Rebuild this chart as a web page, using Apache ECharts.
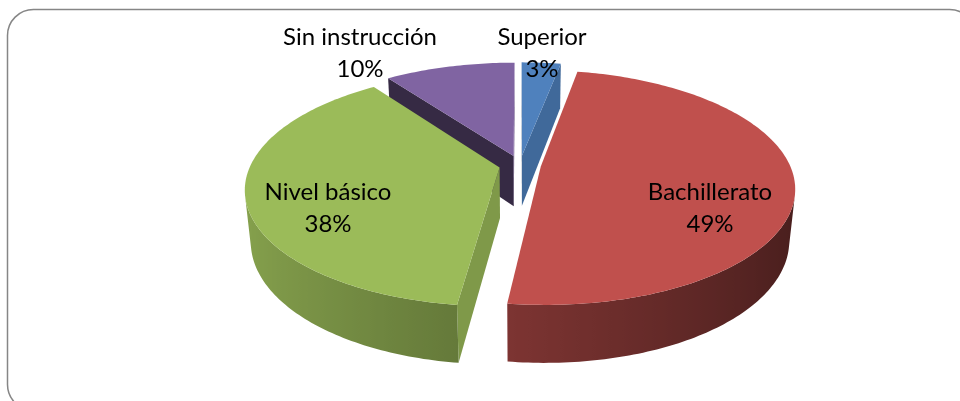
<!DOCTYPE html>
<html>
<head>
<meta charset="utf-8">
<script src="https://cdn.jsdelivr.net/npm/echarts@6/dist/echarts.min.js"></script>
<style>
  html, body { margin: 0; padding: 0; background: #fff; }
  #main { width: 960px; height: 401px; }
</style>
</head>
<body>
<div id="main"></div>
<script>
// datos del gráfico
var categories = ['Superior', 'Bachillerato', 'Nivel básico', 'Sin instrucción'];
var values = [3, 49, 38, 10];
var colors = ['#4F81BD', '#C0504D', '#9BBB59', '#8064A2'];

// vista 3D (estilo Excel)
var ELEV = 27 * Math.PI / 180;
var DIST = 1240;
var RAD = 249;
var DEPTH = 58;
var EXPLODE = 21;
var CX = 520, CY = 165;
var cosE = Math.cos(ELEV), sinE = Math.sin(ELEV);
var cam = [0, DIST * sinE, -DIST * cosE];

// posición de las etiquetas (centro del texto)
var labelAt = [[542, 53], [710, 208], [328, 208], [360, 53]];

var total = values.reduce(function (a, b) { return a + b }, 0);

function proj(X, Y, Z) {
  var yUp = Y * cosE + Z * sinE;
  var d = Z * cosE - Y * sinE;
  var s = DIST / (DIST + d);
  return [CX + X * s, CY - yUp * s];
}

function shade(hex, f) {
  var n = parseInt(hex.slice(1), 16);
  var r = Math.round(((n >> 16) & 255) * f);
  var g = Math.round(((n >> 8) & 255) * f);
  var b = Math.round((n & 255) * f);
  return 'rgb(' + Math.min(r, 255) + ',' + Math.min(g, 255) + ',' + Math.min(b, 255) + ')';
}

function visible(n, p) {
  return n[0] * (cam[0] - p[0]) + n[1] * (cam[1] - p[1]) + n[2] * (cam[2] - p[2]) > 0;
}

function renderSlice(params, api) {
  var i = params.dataIndex;
  var before = 0;
  for (var k = 0; k < i; k++) before += values[k];
  var v = api.value(0);
  var a0 = before / total * Math.PI * 2;
  var a1 = (before + v) / total * Math.PI * 2;
  var mid = (a0 + a1) / 2;
  var ox = EXPLODE * Math.sin(mid), oz = EXPLODE * Math.cos(mid);
  var z2 = Math.round(200 - oz * 3);
  var col = colors[i];

  function P(t, r, y) {
    return [ox + r * Math.sin(t), y, oz + r * Math.cos(t)];
  }
  function S(p) { return proj(p[0], p[1], p[2]); }

  var children = [];
  function face(pts3, fill) {
    children.push({
      type: 'polygon',
      z2: z2,
      shape: { points: pts3.map(S) },
      style: { fill: fill, stroke: null }
    });
  }

  // caras de corte
  var n0 = [-Math.cos(a0), 0, Math.sin(a0)];
  if (visible(n0, P(a0, RAD / 2, 0))) {
    face([P(0, 0, 0), P(a0, RAD, 0), P(a0, RAD, -DEPTH), P(0, 0, -DEPTH)], shade(col, 0.6 + 0.22 * n0[0]));
  }
  var n1 = [Math.cos(a1), 0, -Math.sin(a1)];
  if (visible(n1, P(a1, RAD / 2, 0))) {
    face([P(0, 0, 0), P(a1, RAD, 0), P(a1, RAD, -DEPTH), P(0, 0, -DEPTH)], shade(col, 0.6 + 0.22 * n1[0]));
  }

  // pared exterior: tramos visibles, un polígono con degradado
  var steps = Math.max(2, Math.ceil((a1 - a0) / (1 * Math.PI / 180)));
  var runs = [], cur = null;
  for (var j = 0; j < steps; j++) {
    var t0 = a0 + (a1 - a0) * j / steps;
    var t1 = a0 + (a1 - a0) * (j + 1) / steps;
    var tc = (t0 + t1) / 2;
    var n = [Math.sin(tc), 0, Math.cos(tc)];
    if (visible(n, P(tc, RAD, -DEPTH / 2))) {
      if (!cur) { cur = [t0]; runs.push(cur); }
      cur.push(t1);
    } else {
      cur = null;
    }
  }
  runs.forEach(function (ts) {
    var topPts = ts.map(function (t) { return P(t, RAD, 0); });
    var botPts = ts.map(function (t) { return P(t, RAD, -DEPTH); }).reverse();
    var xs = ts.map(function (t) { return S(P(t, RAD, 0))[0]; });
    var xmin = Math.min.apply(null, xs), xmax = Math.max.apply(null, xs);
    var stops = ts.map(function (t, q) {
      return {
        offset: xmax > xmin ? (xs[q] - xmin) / (xmax - xmin) : 0,
        color: shade(col, 0.62 - 0.25 * Math.sin(t))
      };
    }).sort(function (a, b) { return a.offset - b.offset });
    face(topPts.concat(botPts), {
      type: 'linear', x: xmin, y: 0, x2: xmax, y2: 0, global: true, colorStops: stops
    });
  });

  // cara superior
  var top = [P(0, 0, 0)];
  for (var j2 = 0; j2 <= steps; j2++) {
    top.push(P(a0 + (a1 - a0) * j2 / steps, RAD, 0));
  }
  face(top, col);

  // etiqueta
  var pct = Math.round(v / total * 100) + '%';
  children.push({
    type: 'text',
    z2: 1000,
    style: {
      text: categories[i] + '\n' + pct,
      x: labelAt[i][0],
      y: labelAt[i][1],
      align: 'center',
      verticalAlign: 'middle',
      fontSize: 24,
      lineHeight: 32,
      fontFamily: 'Lato',
      fill: '#000'
    }
  });

  return { type: 'group', children: children };
}

var chart = echarts.init(document.getElementById('main'), null, { renderer: 'canvas' });

var option = {
  backgroundColor: '#fff',
  animation: false,
  graphic: [{
    type: 'rect',
    z: -10,
    shape: { x: 7.5, y: 9.5, width: 968, height: 401, r: 26 },
    style: { fill: 'none', stroke: '#868686', lineWidth: 1.5 }
  }],
  series: [{
    type: 'custom',
    coordinateSystem: 'none',
    renderItem: renderSlice,
    data: values.map(function (v, i) {
      return { name: categories[i], value: [v] }
    })
  }]
};

chart.setOption(option);
</script>
</body>
</html>
